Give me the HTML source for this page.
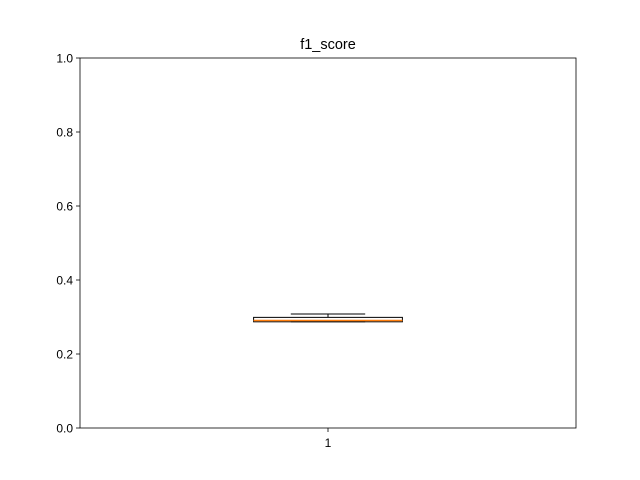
<!DOCTYPE html>
<html><head><meta charset="utf-8"><style>body{margin:0;background:#fff}svg{display:block;font-family:"Liberation Sans","DejaVu Sans",sans-serif}</style></head>
<body>
<svg id="c" width="640" height="480"></svg>
<script>
const categories=["1"];
const whiskerLow=[0.287];
const q1=[0.287];
const medians=[0.2905];
const q3=[0.299];
const whiskerHigh=[0.308];
const yTicks=[0,0.2,0.4,0.6,0.8,1.0];
const yTickLabels=["0.0","0.2","0.4","0.6","0.8","1.0"];
const NS="http://www.w3.org/2000/svg";
const svg=document.getElementById('c');
const L=80,R=576,T=58,B=428;
const x=v=>L+(v-0.5)/(1.0)*(R-L);
const y=v=>B-v*(B-T);
function mk(t,a,p){const e=document.createElementNS(NS,t);for(const k in a)e.setAttribute(k,a[k]);(p||svg).appendChild(e);return e;}
const t=mk('text',{x:(L+R)/2,y:49,'text-anchor':'middle','font-size':14.5,fill:'#000'});t.textContent='f1_score';


yTicks.forEach((v,i)=>{
 const l=mk('line',{x1:L-4,x2:L,y1:y(v),y2:y(v),stroke:'#000','stroke-width':0.8});
 
 
 const tx=mk('text',{x:L-7,y:y(v)+4.5,'text-anchor':'end','font-size':12,fill:'#000'});tx.textContent=yTickLabels[i];
 
 
});
categories.forEach((c,i)=>{
 const cx=x(i+1),hw=0.15*(R-L),cw=0.075*(R-L);
 const g=mk('g',{});
 
 
 mk('line',{x1:cx,x2:cx,y1:y(whiskerHigh[i]),y2:y(q3[i]),stroke:'#000'},g);
 mk('line',{x1:cx,x2:cx,y1:y(whiskerLow[i]),y2:y(q1[i]),stroke:'#000'},g);
 mk('line',{x1:cx-cw,x2:cx+cw,y1:y(whiskerHigh[i]),y2:y(whiskerHigh[i]),stroke:'#000'},g);
 mk('line',{x1:cx-cw,x2:cx+cw,y1:y(whiskerLow[i]),y2:y(whiskerLow[i]),stroke:'#000'},g);
 mk('rect',{x:cx-hw,y:y(q3[i]),width:2*hw,height:Math.max(1,y(q1[i])-y(q3[i])),fill:'none',stroke:'#000'},g);
 mk('line',{x1:cx-hw,x2:cx+hw,y1:y(medians[i]),y2:y(medians[i]),stroke:'#ff7f0e','stroke-width':1.5},g);
 const l=mk('line',{x1:cx,x2:cx,y1:B,y2:B+4,stroke:'#000','stroke-width':0.8});
 
 
 const tx=mk('text',{x:cx,y:B+19,'text-anchor':'middle','font-size':12,fill:'#000'});tx.textContent=c;
 
 
});
const fr=mk('rect',{x:L,y:T,width:R-L,height:B-T,fill:'none',stroke:'#000','stroke-width':0.8});


</script>
</body></html>
